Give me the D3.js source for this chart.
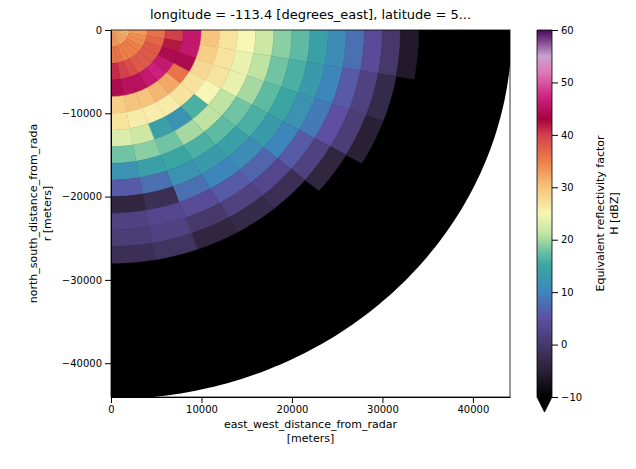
<!DOCTYPE html>
<html>
<head>
<meta charset="utf-8">
<script src="https://cdn.jsdelivr.net/npm/d3@7"></script>
<style>
  body { margin: 0; background: #fff; }
  text { font-family: "DejaVu Sans", sans-serif; }
</style>
</head>
<body>
<svg id="chart" width="636" height="469"></svg>
<script>
// azimuth sectors, degrees clockwise from east (sector centres, 10 deg wide)
const azimuths = [5, 15, 25, 35, 45, 55, 65, 75, 85];
// range bins are 2 km wide starting at 0; values in dBZ
const rangeStep = 2000;
const reflectivity = [
  [31, 33, 36, 40, 46, 30, 27, 25, 22, 19, 17, 14, 11, 8, 4, 0, -6],
  [31, 34, 37, 42, 46, 29, 27, 24, 21, 18, 16, 13, 10, 6, 2, -3],
  [32, 34, 38, 44, 44, 28, 27, 24, 20, 17, 15, 12, 9, 5, 1, -5],
  [32, 35, 38, 46, 36, 27, 25, 21, 18, 16, 13, 10, 6, 2, -4],
  [32, 35, 38, 47, 32, 27, 16, 21, 17, 14, 11, 7, 3, -2],
  [32, 35, 38, 46, 31, 26, 12, 20, 16, 13, 10, 6, 2, -3],
  [33, 35, 39, 45, 30, 26, 14, 18, 15, 12, 8, 4, 0, -4],
  [33, 36, 40, 45, 30, 26, 22, 19, 14, 8, -2, 3, 2, -1],
  [33, 36, 41, 44, 29, 27, 23, 18, 12, 6, -4, 2, 1, -2]
];
const maxRange = 44300;   // radar coverage, drawn as no-echo (below -10 dBZ)
const noEcho = -15;

const xTicks = [0, 10000, 20000, 30000, 40000];
const yTicks = [0, -10000, -20000, -30000, -40000];
const cbTicks = [-10, 0, 10, 20, 30, 40, 50, 60];
const cmapStops = [
  [-10, "#000000"], [-5, "#2a2136"], [0, "#46396a"], [5, "#5e4fa2"],
  [10, "#3d86bb"], [15, "#3aa5a2"], [18, "#70c4a4"], [21, "#bfe3a0"],
  [25, "#f7f6b4"], [30, "#f6c47c"], [35, "#ee7f48"], [40, "#d2404c"],
  [43, "#a3043f"], [47, "#cc1f7e"], [52, "#e07ab7"], [55, "#c9a2d2"],
  [58, "#7d3f8c"], [60, "#4a0d58"]
];

const svg = d3.select("#chart");
const m = { left: 111, top: 30, right: 510, bottom: 397 };
const x = d3.scaleLinear().domain([0, 44100]).range([m.left, m.right]);
const y = d3.scaleLinear().domain([-44060, 0]).range([m.bottom, m.top]);
const color = d3.scaleLinear()
  .domain(cmapStops.map(d => d[0]))
  .range(cmapStops.map(d => d[1]))
  .clamp(true);

svg.append("clipPath").attr("id", "plotclip").append("rect")
  .attr("x", m.left).attr("y", m.top)
  .attr("width", m.right - m.left).attr("height", m.bottom - m.top);

const line = d3.line();
function cell(r0, r1, a0, a1) {
  const pts = [];
  const n = Math.max(4, Math.ceil(Math.abs(a1 - a0)));
  for (let i = 0; i <= n; i++) {
    const a = (a0 + (a1 - a0) * i / n) * Math.PI / 180;
    pts.push([x(r1 * Math.cos(a)), y(-r1 * Math.sin(a))]);
  }
  for (let i = n; i >= 0; i--) {
    const a = (a0 + (a1 - a0) * i / n) * Math.PI / 180;
    pts.push([x(r0 * Math.cos(a)), y(-r0 * Math.sin(a))]);
  }
  return line(pts) + "Z";
}

const plot = svg.append("g").attr("clip-path", "url(#plotclip)");
// coverage disk
plot.append("path")
  .attr("d", cell(0, maxRange, -2, 92))
  .attr("fill", color(noEcho));

const cells = [];
azimuths.forEach((az, i) => {
  reflectivity[i].forEach((v, j) => {
    cells.push({ r0: j * rangeStep, r1: (j + 1) * rangeStep, a0: az - 5, a1: az + 5, v });
  });
});
plot.selectAll("path.cell").data(cells).join("path")
  .attr("class", "cell")
  .attr("d", d => cell(d.r0, d.r1, d.a0 - (d.a0 === 0 ? 2 : 0), d.a1 + (d.a1 === 90 ? 2 : 0)))
  .attr("fill", d => color(d.v))
  .attr("stroke", d => color(d.v))
  .attr("stroke-width", 0.5);

// axes
svg.append("g").attr("transform", `translate(0,${m.bottom})`)
  .call(d3.axisBottom(x).tickValues(xTicks).tickFormat(d3.format("d")).tickSizeOuter(0))
  .call(g => g.selectAll("text").attr("font-size", 10).attr("fill", "#000"));
svg.append("g").attr("transform", `translate(${m.left},0)`)
  .call(d3.axisLeft(y).tickValues(yTicks).tickFormat(d3.format("d")).tickSizeOuter(0))
  .call(g => g.selectAll("text").attr("font-size", 10).attr("fill", "#000"));
svg.append("rect").attr("x", m.left).attr("y", m.top)
  .attr("width", m.right - m.left).attr("height", m.bottom - m.top)
  .attr("fill", "none").attr("stroke", "#000").attr("stroke-width", 0.8);

svg.append("text").attr("x", (m.left + m.right) / 2).attr("y", 19)
  .attr("text-anchor", "middle").attr("font-size", 13)
  .text("longitude = -113.4 [degrees_east], latitude = 5...");
svg.append("text").attr("x", (m.left + m.right) / 2).attr("y", 428)
  .attr("text-anchor", "middle").attr("font-size", 11)
  .text("east_west_distance_from_radar");
svg.append("text").attr("x", (m.left + m.right) / 2).attr("y", 442)
  .attr("text-anchor", "middle").attr("font-size", 11).text("[meters]");
svg.append("text").attr("transform", `translate(37,${(m.top + m.bottom) / 2}) rotate(-90)`)
  .attr("text-anchor", "middle").attr("font-size", 11)
  .text("north_south_distance_from_rada");
svg.append("text").attr("transform", `translate(51,${(m.top + m.bottom) / 2}) rotate(-90)`)
  .attr("text-anchor", "middle").attr("font-size", 11).text("r [meters]");

// colorbar
const cb = { x: 537, w: 15 };
const cy = d3.scaleLinear().domain([-10, 60]).range([m.bottom, m.top]);
const grad = svg.append("defs").append("linearGradient").attr("id", "cbgrad")
  .attr("x1", 0).attr("y1", 1).attr("x2", 0).attr("y2", 0);
cmapStops.forEach(s => grad.append("stop")
  .attr("offset", (s[0] + 10) / 70).attr("stop-color", s[1]));
svg.append("rect").attr("x", cb.x).attr("y", m.top).attr("width", cb.w)
  .attr("height", m.bottom - m.top).attr("fill", "url(#cbgrad)");
svg.append("path")
  .attr("d", `M${cb.x},${m.bottom}L${cb.x + cb.w},${m.bottom}L${cb.x + cb.w / 2},${m.bottom + 15}Z`)
  .attr("fill", "#000");
svg.append("path")
  .attr("d", `M${cb.x},${m.bottom}L${cb.x},${m.top}L${cb.x + cb.w},${m.top}L${cb.x + cb.w},${m.bottom}L${cb.x + cb.w / 2},${m.bottom + 15}Z`)
  .attr("fill", "none").attr("stroke", "#000").attr("stroke-width", 0.8);
svg.append("g").attr("transform", `translate(${cb.x + cb.w},0)`)
  .call(d3.axisRight(cy).tickValues(cbTicks).tickSizeOuter(0))
  .call(g => g.select(".domain").remove())
  .call(g => g.selectAll("text").attr("font-size", 10).attr("fill", "#000"));
svg.append("text").attr("transform", `translate(604,${(m.top + m.bottom) / 2}) rotate(-90)`)
  .attr("text-anchor", "middle").attr("font-size", 11)
  .text("Equivalent reflectivity factor");
svg.append("text").attr("transform", `translate(618,${(m.top + m.bottom) / 2}) rotate(-90)`)
  .attr("text-anchor", "middle").attr("font-size", 11).text("H [dBZ]");
</script>
</body>
</html>
